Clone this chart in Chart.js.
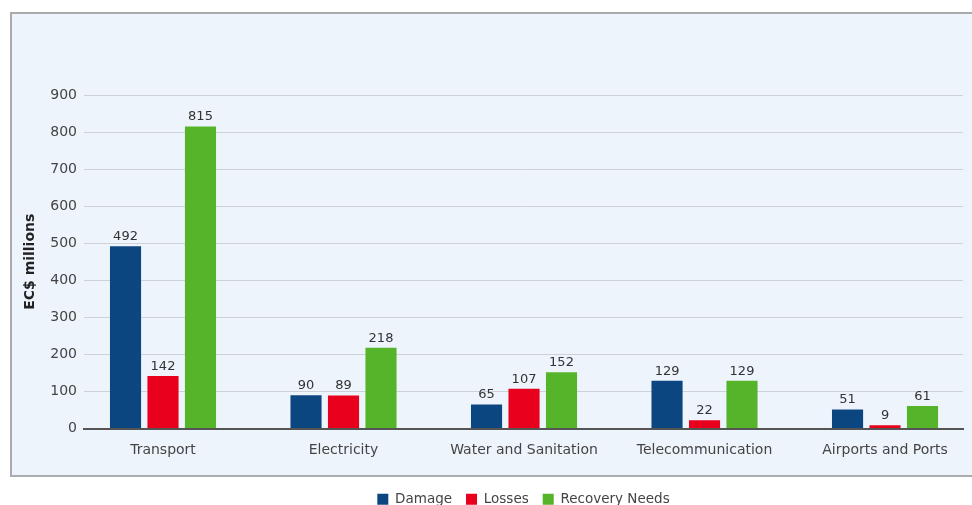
<!DOCTYPE html>
<html>
<head>
<meta charset="utf-8">
<script src="https://cdn.jsdelivr.net/npm/chart.js@4.4.0/dist/chart.umd.min.js"></script>
<style>
  html, body { margin: 0; padding: 0; background: #fff; }
  #wrap { position: relative; width: 972px; height: 505px; overflow: hidden; }
  #frame { position: absolute; left: 10px; top: 12px; width: 980px; height: 461px;
           border: 2px solid #a9abad; background: #eef4fc; }
  canvas { position: absolute; left: 0; top: 0; }
</style>
</head>
<body>
<div id="wrap">
  <div id="frame"></div>
  <canvas id="chart" width="972" height="505"></canvas>
</div>
<script>
var categories = ['Transport', 'Electricity', 'Water and Sanitation', 'Telecommunication', 'Airports and Ports'];
var damage = [492, 90, 65, 129, 51];
var losses = [142, 89, 107, 22, 9];
var recovery = [815, 218, 152, 129, 61];
var yTicks = [0, 100, 200, 300, 400, 500, 600, 700, 800, 900];

var FONT = 'DejaVu Sans';

function points(values) {
    return values.map(function (v, i) { return { x: i + 1, y: v }; });
}

var valueLabels = {
    id: 'valueLabels',
    afterDatasetsDraw: function (c) {
        var ctx = c.ctx;
        ctx.save();
        ctx.font = '13px "' + FONT + '"';
        ctx.fillStyle = '#333';
        ctx.textAlign = 'center';
        ctx.textBaseline = 'bottom';
        c.data.datasets.forEach(function (ds, di) {
            c.getDatasetMeta(di).data.forEach(function (el, i) {
                ctx.fillText(ds.data[i].y, el.x, el.y - 3);
            });
        });
        ctx.restore();
    }
};

var ctx = document.getElementById('chart').getContext('2d');
new Chart(ctx, {
    type: 'bar',
    data: {
        datasets: [
            { label: 'Damage', data: points(damage), backgroundColor: '#0b4680' },
            { label: 'Losses', data: points(losses), backgroundColor: '#e8001d' },
            { label: 'Recovery Needs', data: points(recovery), backgroundColor: '#56b42a' }
        ]
    },
    options: {
        responsive: false,
        animation: false,
        layout: { padding: { left: 22, right: 9, top: 95, bottom: -11 } },
        datasets: { bar: { categoryPercentage: 0.623, barPercentage: 0.83 } },
        scales: {
            x: {
                type: 'linear',
                offset: false,
                min: 0.5623,
                max: 5.432,
                afterBuildTicks: function (s) {
                    s.ticks = categories.map(function (c, i) { return { value: i + 1 }; });
                },
                afterFit: function (s) { s.height = 50; },
                grid: { display: false, offset: false },
                border: { display: true, color: '#555', width: 2 },
                ticks: {
                    padding: 5,
                    color: '#444',
                    font: { family: FONT, size: 14 },
                    maxRotation: 0,
                    autoSkip: false,
                    callback: function (v) { return categories[v - 1]; }
                }
            },
            y: {
                min: 0,
                max: 900,
                afterBuildTicks: function (s) {
                    s.ticks = yTicks.map(function (v) { return { value: v }; });
                },
                afterFit: function (s) { s.width = 62; },
                grid: { color: '#cdd2da', lineWidth: 1, drawTicks: false },
                border: { display: false },
                ticks: { padding: 7, color: '#444', font: { family: FONT, size: 14 } },
                title: {
                    display: true,
                    text: 'EC$ millions',
                    color: '#222',
                    padding: 0,
                    font: { family: FONT, size: 14, weight: 'bold' }
                }
            }
        },
        plugins: {
            legend: {
                position: 'bottom',
                fullSize: false,
                labels: {
                    boxWidth: 11,
                    boxHeight: 11,
                    padding: 14,
                    color: '#444',
                    font: { family: FONT, size: 13.5 }
                }
            },
            tooltip: { enabled: false }
        }
    },
    plugins: [valueLabels]
});
</script>
</body>
</html>
